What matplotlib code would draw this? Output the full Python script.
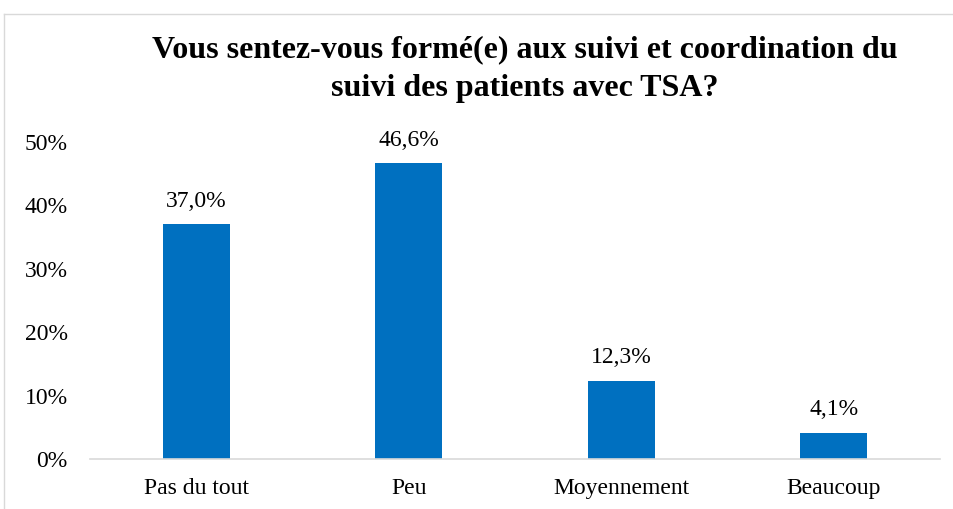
import matplotlib.pyplot as plt
from matplotlib.lines import Line2D

categories = ['Pas du tout', 'Peu', 'Moyennement', 'Beaucoup']
values = [37.0, 46.6, 12.3, 4.1]
yticks = [0, 10, 20, 30, 40, 50]

plt.rcParams['font.family'] = ['Liberation Serif', 'DejaVu Serif']

fig = plt.figure(figsize=(9.54, 5.09), dpi=100)
ax = fig.add_axes([0.0943, 0.0982, 0.891, 0.623])

x = range(len(categories))
ax.bar(x, values, width=0.315, color='#0070C0')
for i, v in zip(x, values):
    ax.text(i, v + 2.0, '{:.1f}%'.format(v).replace('.', ','),
            ha='center', va='bottom', fontsize=17)

ax.set_xlim(-0.5, len(categories) - 0.5)
ax.set_ylim(0, 50)
ax.set_yticks(yticks)
ax.set_yticklabels(['{}%'.format(t) for t in yticks], fontsize=17)
ax.set_xticks(list(x))
ax.set_xticklabels(categories, fontsize=17)
ax.tick_params(length=0)
ax.tick_params(axis='x', pad=14)
ax.tick_params(axis='y', pad=16)
for s in ['top', 'right', 'left']:
    ax.spines[s].set_visible(False)
ax.spines['bottom'].set_color('#D9D9D9')
ax.spines['bottom'].set_linewidth(1.2)

fig.text(0.55, 0.865, 'Vous sentez-vous formé(e) aux suivi et coordination du\nsuivi des patients avec TSA?',
         ha='center', va='center', fontsize=23, fontweight='bold', linespacing=1.45)

# light frame
fig.add_artist(Line2D([4 / 954, 1], [1 - 14 / 509] * 2, color='#D9D9D9', lw=1))
fig.add_artist(Line2D([4 / 954] * 2, [0, 1 - 14 / 509], color='#D9D9D9', lw=1))

fig.savefig('out.png', dpi=100)
